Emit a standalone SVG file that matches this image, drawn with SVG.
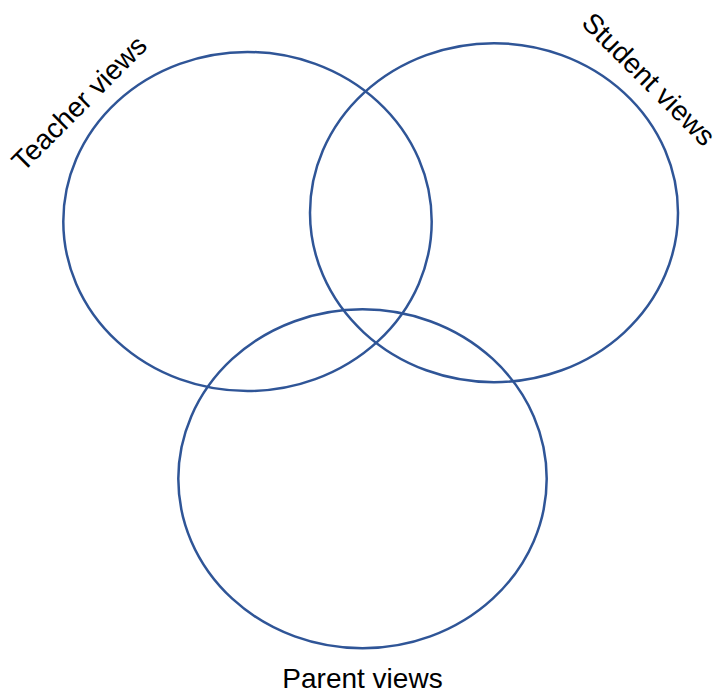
<svg xmlns="http://www.w3.org/2000/svg" width="719" height="694" viewBox="0 0 719 694">
<style>
.c{fill:none;stroke:#2F5597;stroke-width:2.5}
.t{font-family:"Liberation Sans",Arial,sans-serif;font-size:28px;fill:#000;text-anchor:middle}
</style>
<rect width="719" height="694" fill="#fff"/>
<g id="teacher">
<ellipse class="c" cx="247.5" cy="221.5" rx="184.2" ry="169.5"/>
<text class="t" transform="translate(86,110) rotate(-45)">Teacher views</text>
</g>
<g id="student">
<ellipse class="c" cx="494" cy="212.7" rx="184" ry="169.5"/>
<text class="t" transform="translate(642,86) rotate(45)">Student views</text>
</g>
<g id="parent">
<ellipse class="c" cx="362.5" cy="478.8" rx="184.2" ry="169.5"/>
<text class="t" x="362.5" y="688">Parent views</text>
</g>
<g id="connectors"></g>
</svg>
